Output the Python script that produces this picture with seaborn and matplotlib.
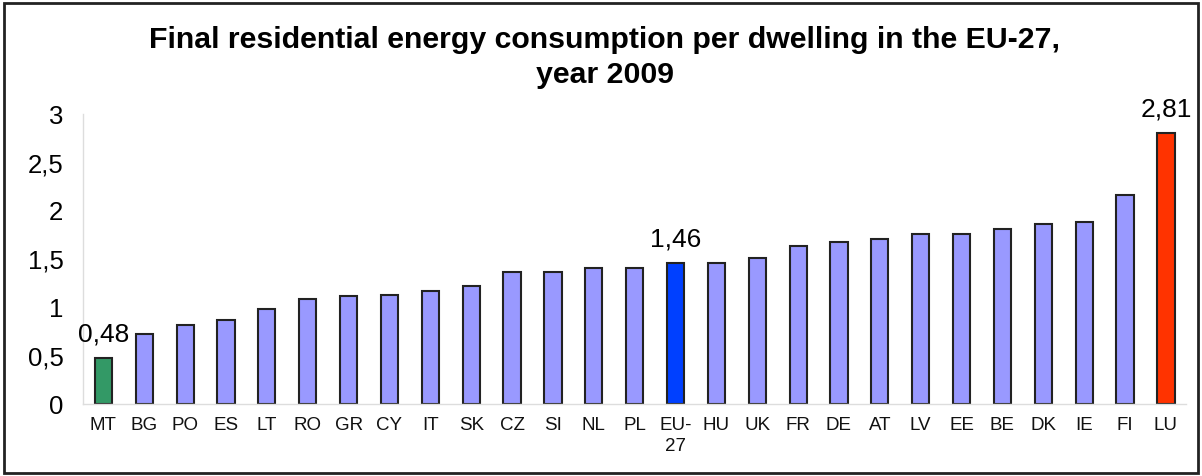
import matplotlib
matplotlib.use("Agg")
import matplotlib.pyplot as plt
import seaborn as sns
import pandas as pd
from matplotlib.patches import Rectangle
from matplotlib.ticker import FuncFormatter, FixedLocator

countries = ["MT", "BG", "PO", "ES", "LT", "RO", "GR", "CY", "IT", "SK", "CZ", "SI", "NL", "PL",
             "EU-\n27", "HU", "UK", "FR", "DE", "AT", "LV", "EE", "BE", "DK", "IE", "FI", "LU"]
consumption = [0.48, 0.73, 0.82, 0.87, 0.98, 1.09, 1.12, 1.13, 1.17, 1.22, 1.37, 1.37, 1.41, 1.41,
               1.46, 1.46, 1.51, 1.64, 1.68, 1.71, 1.76, 1.76, 1.81, 1.86, 1.88, 2.16, 2.81]
bar_colors = ["#339966"] + ["#9999FF"] * 13 + ["#0040FF"] + ["#9999FF"] * 11 + ["#FF3300"]
labelled = {"MT": "0,48", "EU-\n27": "1,46", "LU": "2,81"}

df = pd.DataFrame({"country": countries, "value": consumption})

sns.set_style("white")
plt.rcParams["font.family"] = ["Liberation Sans", "DejaVu Sans"]
plt.rcParams["text.color"] = "black"
plt.rcParams["xtick.color"] = "black"
plt.rcParams["ytick.color"] = "black"

fig = plt.figure(figsize=(12.02, 4.76), dpi=100)
ax = fig.add_axes([0.069, 0.151, 0.918, 0.609])

sns.barplot(data=df, x="country", y="value", hue="country", palette=bar_colors,
            legend=False, width=0.42, edgecolor="#222222", linewidth=1.5, ax=ax, saturation=1)

ax.set_ylim(0, 3)
ax.set_xlim(-0.5, len(countries) - 0.5)
ax.set_yticks([0, 0.5, 1, 1.5, 2, 2.5, 3])
ax.yaxis.set_major_formatter(FuncFormatter(lambda v, p: f"{v:g}".replace(".", ",")))
ax.tick_params(axis="y", labelsize=18.5, length=4, color="#cccccc", labelcolor="black", pad=10)
ax.tick_params(axis="x", which="major", labelsize=13.5, length=0, pad=9, labelcolor="#111111")
for lbl in ax.get_xticklabels():
    lbl.set_linespacing(1.35)
ax.xaxis.set_minor_locator(FixedLocator([i - 0.5 for i in range(len(countries) + 1)]))
ax.tick_params(axis="x", which="minor", length=5, color="#cccccc")
ax.set_xlabel("")
ax.set_ylabel("")

for side in ["top", "right"]:
    ax.spines[side].set_visible(False)
for side in ["left", "bottom"]:
    ax.spines[side].set_color("#dddddd")
    ax.spines[side].set_linewidth(1)

for i, c in enumerate(countries):
    if c in labelled:
        ax.annotate(labelled[c], (i, consumption[i]), xytext=(0, 8), textcoords="offset points",
                    ha="center", va="bottom", fontsize=19)

fig.text(0.503, 0.915, "Final residential energy consumption per dwelling in the EU-27,",
         ha="center", va="center", fontsize=21.8, fontweight="bold")
fig.text(0.503, 0.843, "year 2009", ha="center", va="center", fontsize=21.8, fontweight="bold")

fig.patches.append(Rectangle((0.003, 0.006), 0.994, 0.988, transform=fig.transFigure,
                             fill=False, edgecolor="#222222", linewidth=2))

fig.savefig("out.png", dpi=100)
